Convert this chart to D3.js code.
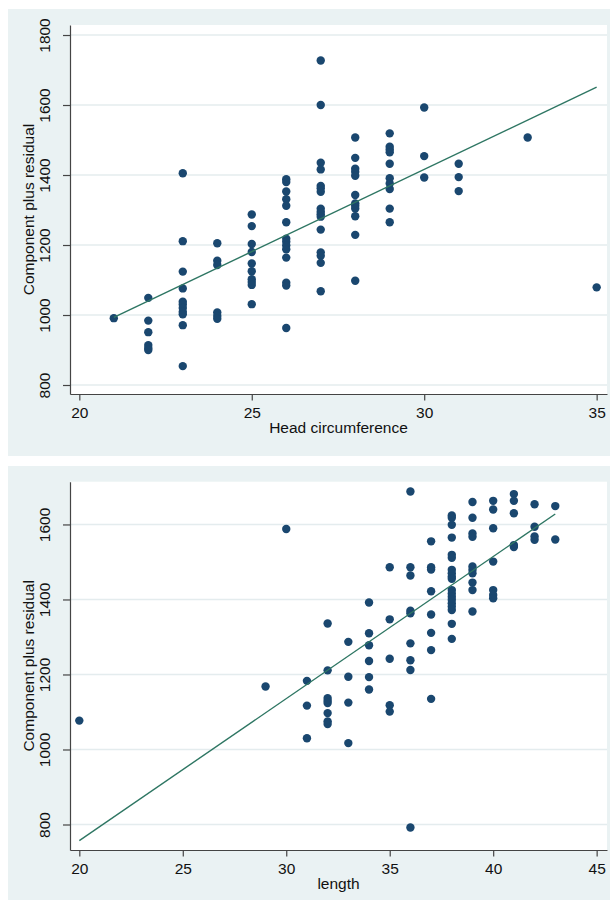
<!DOCTYPE html>
<html>
<head>
<meta charset="utf-8">
<script src="https://cdn.jsdelivr.net/npm/d3@7"></script>
<style>
  body { margin: 0; background: #fff; }
  text { font-family: "Liberation Sans", Arial, sans-serif; fill: #111; }
</style>
</head>
<body>
<svg id="chart" width="610" height="905"></svg>
<script>
// Head circumference panel: x values and the residuals plotted at each
const headCols = [21, 22, 23, 24, 25, 26, 27, 28, 29, 30, 31, 33, 35];
const headVals = [
  [991],
  [1049, 984, 951, 914, 906, 900],
  [1405, 1211, 1124, 1076, 1038, 1030, 1020, 1009, 1002, 971, 854],
  [1205, 1155, 1143, 1007, 997, 989],
  [1287, 1254, 1203, 1180, 1147, 1125, 1102, 1094, 1086, 1031],
  [1388, 1380, 1353, 1331, 1312, 1265, 1218, 1209, 1199, 1188, 1164, 1092, 1084, 963],
  [1727, 1600, 1435, 1416, 1369, 1362, 1352, 1304, 1295, 1288, 1281, 1244, 1179, 1169, 1149, 1068],
  [1507, 1449, 1418, 1409, 1398, 1343, 1319, 1312, 1304, 1282, 1229, 1098],
  [1519, 1481, 1473, 1465, 1432, 1391, 1376, 1360, 1304, 1265],
  [1593, 1454, 1393],
  [1432, 1394, 1354],
  [1507],
  [1079]
];
const headFitX = [21, 35];
const headFitY = [993, 1651];
const headXTicks = [20, 25, 30, 35];
const headYTicks = [800, 1000, 1200, 1400, 1600, 1800];

// Length panel
const lenCols = [20, 29, 30, 31, 32, 33, 34, 35, 36, 37, 38, 39, 40, 41, 42, 43];
const lenVals = [
  [1077],
  [1168],
  [1588],
  [1183, 1117, 1030],
  [1336, 1211, 1137, 1130, 1124, 1097, 1075, 1068],
  [1287, 1194, 1125, 1017],
  [1392, 1310, 1278, 1236, 1193, 1160],
  [1486, 1347, 1242, 1118, 1101],
  [1688, 1486, 1464, 1370, 1363, 1283, 1238, 1212, 792],
  [1555, 1486, 1480, 1422, 1360, 1311, 1265, 1135],
  [1624, 1618, 1599, 1565, 1519, 1511, 1479, 1470, 1461, 1455, 1425, 1416, 1407, 1399, 1390, 1381, 1372, 1335, 1295],
  [1660, 1618, 1576, 1567, 1488, 1479, 1470, 1445, 1425, 1368],
  [1663, 1640, 1590, 1501, 1425, 1412, 1403],
  [1681, 1663, 1630, 1545, 1540],
  [1654, 1594, 1568, 1559],
  [1649, 1560]
];
const lenFitX = [20, 43];
const lenFitY = [757, 1628];
const lenXTicks = [20, 25, 30, 35, 40, 45];
const lenYTicks = [800, 1000, 1200, 1400, 1600];

const svg = d3.select('#chart');
const fmt = d3.format('d');

function panel(cfg) {
  const {top, bottom, xDomain, yDomain, cols, vals, fitX, fitY, xTicks, yTicks, xTitle} = cfg;
  const left = 70, right = 607;

  // Stata-style graph region
  svg.append('rect')
      .attr('x', 8).attr('y', cfg.bgTop)
      .attr('width', 602).attr('height', cfg.bgBottom - cfg.bgTop)
      .attr('fill', '#eaf2f3');
  svg.append('rect')
      .attr('x', left).attr('y', top)
      .attr('width', right - left).attr('height', bottom - top)
      .attr('fill', '#fff');

  const x = d3.scaleLinear().domain(xDomain).range([left, right]);
  const y = d3.scaleLinear().domain(yDomain).range([bottom, top]);

  // Gridlines
  svg.append('g').selectAll('line').data(yTicks).join('line')
      .attr('x1', left).attr('x2', right)
      .attr('y1', d => y(d)).attr('y2', d => y(d))
      .attr('stroke', '#e4ecee').attr('stroke-width', 1.5);

  // Axes
  const gx = svg.append('g')
      .attr('transform', `translate(0,${bottom})`)
      .call(d3.axisBottom(x).tickValues(xTicks).tickFormat(fmt).tickSize(6.5).tickSizeOuter(0));
  gx.selectAll('text').attr('y', 24).attr('dy', 0)
      .style('font-size', '15.5px').style('font-family', '"Liberation Sans", Arial, sans-serif')
      .attr('fill', '#111');

  const gy = svg.append('g')
      .attr('transform', `translate(${left},0)`)
      .call(d3.axisLeft(y).tickValues(yTicks).tickFormat(fmt).tickSize(7).tickSizeOuter(0));
  gy.selectAll('text')
      .attr('transform', 'rotate(-90)')
      .attr('x', 0).attr('y', -20).attr('dy', 0)
      .attr('text-anchor', 'middle')
      .style('font-size', '15.5px').style('font-family', '"Liberation Sans", Arial, sans-serif')
      .attr('fill', '#111');

  [gx, gy].forEach(g => {
    g.select('.domain').attr('stroke', '#444').attr('stroke-width', 1.2);
    g.selectAll('.tick line').attr('stroke', '#444').attr('stroke-width', 1.2);
  });

  // Titles
  svg.append('text')
      .attr('x', (left + right) / 2).attr('y', bottom + 39.3)
      .attr('text-anchor', 'middle').style('font-size', '15.5px')
      .text(xTitle);
  svg.append('text')
      .attr('transform', `translate(34,${(top + bottom) / 2}) rotate(-90)`)
      .attr('text-anchor', 'middle').style('font-size', '15.5px')
      .text('Component plus residual');

  // Points
  const pts = cols.flatMap((c, i) => vals[i].map(v => [c, v]));
  svg.append('g').selectAll('circle').data(pts).join('circle')
      .attr('cx', d => x(d[0])).attr('cy', d => y(d[1]))
      .attr('r', 4.2).attr('fill', '#1a476f');

  // Fitted line
  const line = d3.line().x(d => x(d[0])).y(d => y(d[1]));
  svg.append('path')
      .datum(fitX.map((v, i) => [v, fitY[i]]))
      .attr('d', line).attr('fill', 'none')
      .attr('stroke', '#2e7663').attr('stroke-width', 1.4);
}

panel({
  bgTop: 9, bgBottom: 456, top: 25, bottom: 394,
  xDomain: [19.73, 35.3], yDomain: [774.3, 1828.6],
  cols: headCols, vals: headVals, fitX: headFitX, fitY: headFitY,
  xTicks: headXTicks, yTicks: headYTicks, xTitle: 'Head circumference'
});

panel({
  bgTop: 466, bgBottom: 900, top: 481.7, bottom: 850,
  xDomain: [19.55, 45.5], yDomain: [732, 1714],
  cols: lenCols, vals: lenVals, fitX: lenFitX, fitY: lenFitY,
  xTicks: lenXTicks, yTicks: lenYTicks, xTitle: 'length'
});
</script>
</body>
</html>
